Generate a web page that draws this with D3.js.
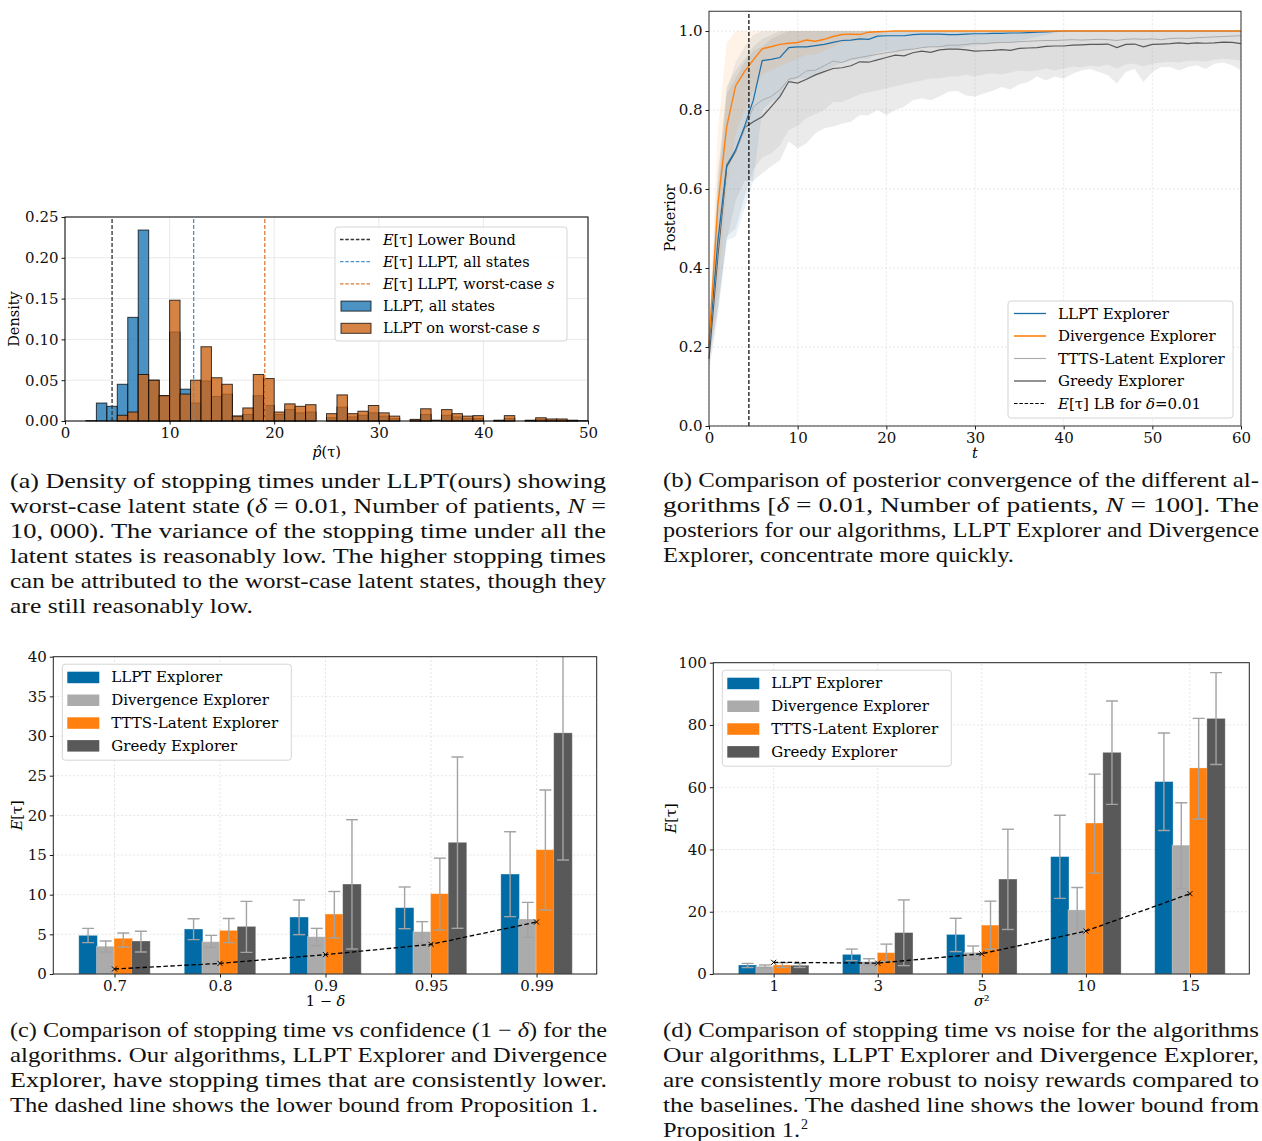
<!DOCTYPE html>
<html>
<head>
<meta charset="utf-8">
<script src="https://cdn.jsdelivr.net/npm/d3@7"></script>
<style>
  body { margin: 0; background: #fff; }
  text { font-family: "DejaVu Serif", serif; }
  .cap { font-family: "Liberation Serif", serif; font-size: 21px; fill: #111; }
</style>
</head>
<body>
<svg id="fig" width="1262" height="1141"></svg>
<script>
// ---------- data: panel (a) histogram (bins of width 1 starting at 2) ----------
const histBins = d3.range(2, 50);
const histAllStates = [0.0005, 0.022, 0.018, 0.045, 0.127, 0.234, 0.050, 0.031, 0.109, 0.039,
  0.022, 0.049, 0.030, 0.033, 0.006, 0.008, 0.031, 0.019, 0.008, 0.014,
  0.010, 0.011, 0, 0.004, 0.017, 0.005, 0.007, 0.010, 0.006, 0.003,
  0, 0.001, 0.008, 0, 0.007, 0.005, 0.003, 0.003, 0, 0.0005,
  0.003, 0, 0.0005, 0.002, 0.001, 0.001, 0.0005, 0];
const histWorstCase = [0, 0, 0, 0.007, 0.011, 0.057, 0.050, 0.031, 0.148, 0.033,
  0.050, 0.091, 0.053, 0.045, 0.006, 0.016, 0.057, 0.052, 0.011, 0.021,
  0.018, 0.020, 0, 0.009, 0.032, 0.009, 0.012, 0.019, 0.010, 0.006,
  0, 0.002, 0.015, 0.001, 0.014, 0.009, 0.006, 0.0066, 0, 0.001,
  0.0066, 0, 0.001, 0.004, 0.0025, 0.0025, 0.001, 0.0005];
const lowerBoundTau = 4.5;
const meanTauAll = 12.3;
const meanTauWorst = 19.1;

// ---------- data: panel (b) posterior vs t ----------
const tSteps = d3.range(0, 61);
const llptMean = [0.20, 0.47, 0.659, 0.699, 0.758, 0.825, 0.925, 0.928, 0.933, 0.958,
  0.960, 0.960, 0.963, 0.966, 0.971, 0.976, 0.977, 0.980, 0.979, 0.987,
  0.988, 0.988, 0.988, 0.991, 0.992, 0.992, 0.992, 0.991, 0.991, 0.992,
  0.993, 0.993, 0.994, 0.994, 0.995, 0.995, 0.996, 0.997, 0.998, 0.999,
  1, 1, 1, 1, 1, 1, 1, 1, 1, 1,
  1, 1, 1, 1, 1, 1, 1, 1, 1, 1, 1];
const llptLo = [0.17, 0.30, 0.47, 0.48, 0.55, 0.62, 0.80, 0.82, 0.83, 0.87,
  0.88, 0.88, 0.89, 0.90, 0.91, 0.92, 0.925, 0.93, 0.93, 0.945,
  0.95, 0.95, 0.95, 0.955, 0.96, 0.96, 0.96, 0.955, 0.955, 0.96,
  0.962, 0.965, 0.968, 0.97, 0.972, 0.975, 0.98, 0.985, 0.99, 0.995,
  1, 1, 1, 1, 1, 1, 1, 1, 1, 1,
  1, 1, 1, 1, 1, 1, 1, 1, 1, 1, 1];
const llptHi = [0.23, 0.64, 0.85, 0.92, 0.96, 0.99, 1, 1, 1, 1,
  1, 1, 1, 1, 1, 1, 1, 1, 1, 1,
  1, 1, 1, 1, 1, 1, 1, 1, 1, 1,
  1, 1, 1, 1, 1, 1, 1, 1, 1, 1,
  1, 1, 1, 1, 1, 1, 1, 1, 1, 1,
  1, 1, 1, 1, 1, 1, 1, 1, 1, 1, 1];
const divMean = [0.21, 0.56, 0.758, 0.861, 0.897, 0.927, 0.955, 0.960, 0.966, 0.969,
  0.971, 0.977, 0.974, 0.979, 0.986, 0.991, 0.992, 0.991, 0.997, 0.998,
  0.999, 1, 1, 1, 1, 1, 1, 1, 1, 1,
  1, 1, 1, 1, 1, 1, 1, 1, 1, 1,
  1, 1, 1, 1, 1, 1, 1, 1, 1, 1,
  1, 1, 1, 1, 1, 1, 1, 1, 1, 1, 1];
const divLo = [0.18, 0.35, 0.60, 0.74, 0.80, 0.85, 0.89, 0.90, 0.91, 0.92,
  0.93, 0.94, 0.94, 0.95, 0.96, 0.97, 0.975, 0.975, 0.985, 0.99,
  0.995, 1, 1, 1, 1, 1, 1, 1, 1, 1,
  1, 1, 1, 1, 1, 1, 1, 1, 1, 1,
  1, 1, 1, 1, 1, 1, 1, 1, 1, 1,
  1, 1, 1, 1, 1, 1, 1, 1, 1, 1, 1];
const divHi = [0.24, 0.75, 0.97, 1, 1, 1, 1, 1, 1, 1,
  1, 1, 1, 1, 1, 1, 1, 1, 1, 1,
  1, 1, 1, 1, 1, 1, 1, 1, 1, 1,
  1, 1, 1, 1, 1, 1, 1, 1, 1, 1,
  1, 1, 1, 1, 1, 1, 1, 1, 1, 1,
  1, 1, 1, 1, 1, 1, 1, 1, 1, 1, 1];
const tttsMean = [0.20, 0.45, 0.665, 0.695, 0.750, 0.808, 0.825, 0.834, 0.851, 0.878,
  0.883, 0.899, 0.901, 0.912, 0.924, 0.920, 0.929, 0.933, 0.937, 0.941,
  0.945, 0.948, 0.952, 0.954, 0.958, 0.960, 0.960, 0.964, 0.964, 0.966,
  0.969, 0.968, 0.970, 0.971, 0.971, 0.973, 0.974, 0.975, 0.976, 0.976,
  0.977, 0.978, 0.977, 0.978, 0.979, 0.978, 0.976, 0.979, 0.980, 0.979,
  0.980, 0.978, 0.981, 0.982, 0.981, 0.983, 0.984, 0.985, 0.986, 0.987, 0.988];
const tttsLo = [0.16, 0.30, 0.48, 0.50, 0.58, 0.65, 0.68, 0.69, 0.71, 0.75,
  0.76, 0.78, 0.79, 0.80, 0.82, 0.82, 0.83, 0.84, 0.845, 0.85,
  0.855, 0.86, 0.865, 0.87, 0.875, 0.88, 0.88, 0.885, 0.885, 0.89,
  0.885, 0.89, 0.893, 0.89, 0.895, 0.90, 0.898, 0.90, 0.905, 0.90,
  0.905, 0.91, 0.908, 0.912, 0.91, 0.915, 0.905, 0.915, 0.918, 0.91,
  0.918, 0.92, 0.922, 0.92, 0.925, 0.925, 0.922, 0.928, 0.93, 0.928, 0.925];
const tttsHi = [0.24, 0.62, 0.86, 0.90, 0.93, 0.96, 0.98, 0.99, 1, 1,
  1, 1, 1, 1, 1, 1, 1, 1, 1, 1,
  1, 1, 1, 1, 1, 1, 1, 1, 1, 1,
  1, 1, 1, 1, 1, 1, 1, 1, 1, 1,
  1, 1, 1, 1, 1, 1, 1, 1, 1, 1,
  1, 1, 1, 1, 1, 1, 1, 1, 1, 1, 1];
const greedyMean = [0.17, 0.43, 0.657, 0.695, 0.755, 0.770, 0.783, 0.808, 0.834, 0.872,
  0.868, 0.878, 0.889, 0.897, 0.905, 0.907, 0.912, 0.922, 0.921, 0.927,
  0.933, 0.939, 0.937, 0.945, 0.949, 0.946, 0.952, 0.954, 0.954, 0.952,
  0.949, 0.950, 0.951, 0.953, 0.951, 0.956, 0.957, 0.958, 0.961, 0.962,
  0.962, 0.964, 0.965, 0.966, 0.966, 0.967, 0.958, 0.966, 0.967, 0.960,
  0.966, 0.967, 0.968, 0.970, 0.968, 0.970, 0.969, 0.970, 0.972, 0.971, 0.968];
const greedyLo = [0.14, 0.28, 0.47, 0.57, 0.62, 0.62, 0.64, 0.657, 0.673, 0.72,
  0.703, 0.716, 0.741, 0.754, 0.758, 0.766, 0.77, 0.787, 0.787, 0.80,
  0.787, 0.80, 0.808, 0.825, 0.83, 0.825, 0.834, 0.846, 0.849, 0.837,
  0.834, 0.842, 0.849, 0.858, 0.852, 0.865, 0.871, 0.885, 0.875, 0.885,
  0.879, 0.892, 0.90, 0.904, 0.896, 0.888, 0.867, 0.896, 0.904, 0.871,
  0.896, 0.909, 0.909, 0.90, 0.909, 0.913, 0.904, 0.917, 0.92, 0.913, 0.90];
const greedyHi = [0.20, 0.58, 0.84, 0.88, 0.92, 0.95, 0.96, 0.98, 0.99, 1,
  1, 1, 1, 1, 1, 1, 1, 1, 1, 1,
  1, 1, 1, 1, 1, 1, 1, 1, 1, 1,
  1, 1, 1, 1, 1, 1, 1, 1, 1, 1,
  1, 1, 1, 1, 1, 1, 1, 1, 1, 1,
  1, 1, 1, 1, 1, 1, 1, 1, 1, 1, 1];
const lbStep = 4.5;

// ---------- data: panel (c) E[tau] vs 1 - delta ----------
const confCats = ['0.7', '0.8', '0.9', '0.95', '0.99'];
const confLLPT = [4.87, 5.67, 7.18, 8.36, 12.6];
const confLLPTLo = [3.95, 4.33, 4.96, 5.71, 7.23];
const confLLPTHi = [5.75, 6.97, 9.33, 10.97, 17.94];
const confDiv = [3.5, 4.07, 4.7, 5.34, 6.93];
const confDivLo = [2.77, 3.36, 3.57, 3.87, 4.62];
const confDivHi = [4.16, 4.87, 5.75, 6.6, 9.03];
const confTTTS = [4.5, 5.5, 7.56, 10.13, 15.67];
const confTTTSLo = [3.4, 3.95, 4.54, 5.55, 8.07];
const confTTTSHi = [5.17, 7.0, 10.4, 14.6, 23.2];
const confGreedy = [4.16, 6.0, 11.34, 16.6, 30.4];
const confGreedyLo = [2.77, 2.73, 3.15, 5.76, 14.37];
const confGreedyHi = [5.38, 9.16, 19.45, 27.35, 46.4];
const confLB = [0.63, 1.34, 2.44, 3.74, 6.55];

// ---------- data: panel (d) E[tau] vs sigma^2 ----------
const noiseCats = ['1', '3', '5', '10', '15'];
const noiseLLPT = [2.9, 6.3, 12.7, 37.7, 61.8];
const noiseLLPTLo = [2.1, 4.3, 7.2, 24.3, 46.1];
const noiseLLPTHi = [3.4, 8.0, 17.9, 51.0, 77.4];
const noiseDiv = [2.46, 4.0, 6.96, 20.6, 41.4];
const noiseDivLo = [2.0, 3.0, 4.7, 12.7, 27.5];
const noiseDivHi = [2.9, 4.9, 9.0, 27.8, 55.0];
const noiseTTTS = [2.9, 6.85, 15.7, 48.5, 66.2];
const noiseTTTSLo = [2.1, 4.0, 8.0, 32.4, 49.8];
const noiseTTTSHi = [3.6, 9.6, 23.4, 64.2, 82.1];
const noiseGreedy = [2.8, 13.3, 30.5, 71.2, 82.1];
const noiseGreedyLo = [2.1, 2.7, 14.3, 54.5, 67.3];
const noiseGreedyHi = [3.4, 23.8, 46.5, 87.7, 96.8];
const noiseLB = [3.75, 3.5, 6.5, 13.8, 25.8];

const algoNames = ['LLPT Explorer', 'Divergence Explorer', 'TTTS-Latent Explorer', 'Greedy Explorer'];
const barColors = ['#006BA4', '#ABABAB', '#FF800E', '#595959'];
const lineColors = { llpt: '#1a6ea8', div: '#FF800E', ttts: '#ABABAB', greedy: '#595959' };

const svg = d3.select('#fig');

// draws ticks + labels for an axis, without the domain path
function addAxis(g, axis, transform) {
    const a = g.append('g').attr('transform', transform).call(axis);
    a.select('.domain').remove();
    a.selectAll('.tick line').attr('stroke', '#000').attr('stroke-width', 0.9);
    a.selectAll('.tick text').attr('fill', '#111').style('font-size', '15px')
        .style('font-family', '"DejaVu Serif", serif');
    return a;
}

function frame(g, x0, y0, x1, y1, color) {
    g.append('rect').attr('x', x0).attr('y', y0)
        .attr('width', x1 - x0).attr('height', y1 - y0)
        .attr('fill', 'none').attr('stroke', color || '#000').attr('stroke-width', 1);
}

function legendFrame(g, x, y, w, h) {
    g.append('rect').attr('x', x).attr('y', y).attr('width', w).attr('height', h)
        .attr('rx', 3).attr('fill', '#fff').attr('fill-opacity', 0.85)
        .attr('stroke', '#d5d5d5').attr('stroke-width', 1);
}

// text with *italic* parts
function richText(sel, str) {
    str.split('*').forEach((part, i) => {
        if (part === '') return;
        const t = sel.append('tspan').text(part);
        if (i % 2 === 1) t.style('font-style', 'italic');
    });
    return sel;
}

// =================== Panel (a) ===================
const gA = svg.append('g');
const xA = d3.scaleLinear().domain([0, 50]).range([65, 588]);
const yA = d3.scaleLinear().domain([0, 0.25]).range([421, 217]);

gA.selectAll('.gx').data(xA.ticks(5)).enter().append('line')
    .attr('x1', d => xA(d)).attr('x2', d => xA(d)).attr('y1', yA(0.25)).attr('y2', yA(0))
    .attr('stroke', '#e9e9e9').attr('stroke-width', 1);
gA.selectAll('.gy').data(yA.ticks(5)).enter().append('line')
    .attr('x1', xA(0)).attr('x2', xA(50)).attr('y1', d => yA(d)).attr('y2', d => yA(d))
    .attr('stroke', '#e9e9e9').attr('stroke-width', 1);

gA.selectAll('.hb').data(histBins).enter().append('rect')
    .attr('x', d => xA(d)).attr('width', d => xA(d + 1) - xA(d))
    .attr('y', (d, i) => yA(histAllStates[i]))
    .attr('height', (d, i) => yA(0) - yA(histAllStates[i]))
    .attr('fill', '#1f77b4').attr('fill-opacity', 0.8)
    .attr('stroke', '#000').attr('stroke-opacity', 0.75).attr('stroke-width', 1);
gA.selectAll('.ho').data(histBins).enter().append('rect')
    .attr('x', d => xA(d)).attr('width', d => xA(d + 1) - xA(d))
    .attr('y', (d, i) => yA(histWorstCase[i]))
    .attr('height', (d, i) => yA(0) - yA(histWorstCase[i]))
    .attr('fill', '#cc6518').attr('fill-opacity', 0.8)
    .attr('stroke', '#000').attr('stroke-opacity', 0.75).attr('stroke-width', 1);

const vLinesA = [
    { v: lowerBoundTau, c: '#333' },
    { v: meanTauAll, c: '#4b92c8' },
    { v: meanTauWorst, c: '#e07b39' }
];
gA.selectAll('.vl').data(vLinesA).enter().append('line')
    .attr('x1', d => xA(d.v)).attr('x2', d => xA(d.v))
    .attr('y1', yA(0)).attr('y2', yA(0.25))
    .attr('stroke', d => d.c).attr('stroke-width', 1.3).attr('stroke-dasharray', '4,2');

addAxis(gA, d3.axisBottom(xA).tickValues(xA.ticks(5)).tickSize(3.5).tickSizeOuter(0).tickPadding(3),
    `translate(0,${yA(0)})`);
addAxis(gA, d3.axisLeft(yA).tickValues(yA.ticks(5)).tickFormat(d3.format('.2f'))
    .tickSize(3.5).tickSizeOuter(0).tickPadding(3), `translate(${xA(0)},0)`);
frame(gA, xA(0), yA(0.25), xA(50), yA(0));

gA.append('text').attr('transform', `translate(22,${(yA(0) + yA(0.25)) / 2}) rotate(-90)`)
    .attr('text-anchor', 'middle').attr('dy', '-0.2em').style('font-size', '14.5px').text('Density');
richText(gA.append('text').attr('x', (xA(0) + xA(50)) / 2).attr('y', 457)
    .attr('text-anchor', 'middle').style('font-size', '14.5px'), '*p\u0302*(\u03c4)');

// legend (a)
const lgA = gA.append('g');
legendFrame(lgA, 335, 227, 232, 114);
const legA = [
    { type: 'line', c: '#333', label: '*E*[\u03c4] Lower Bound' },
    { type: 'line', c: '#4b92c8', label: '*E*[\u03c4] LLPT, all states' },
    { type: 'line', c: '#e07b39', label: '*E*[\u03c4] LLPT, worst-case *s*' },
    { type: 'patch', c: '#1f77b4', label: 'LLPT, all states' },
    { type: 'patch', c: '#cc6518', label: 'LLPT on worst-case *s*' }
];
legA.forEach((d, i) => {
    const y = 239.5 + i * 22.2;
    if (d.type === 'line') {
        lgA.append('line').attr('x1', 340).attr('x2', 371).attr('y1', y).attr('y2', y)
            .attr('stroke', d.c).attr('stroke-width', 1.3).attr('stroke-dasharray', '3.5,1.8');
    } else {
        lgA.append('rect').attr('x', 341).attr('y', y - 5).attr('width', 30).attr('height', 10)
            .attr('fill', d.c).attr('fill-opacity', 0.8).attr('stroke', '#000').attr('stroke-opacity', 0.75);
    }
    richText(lgA.append('text').attr('x', 383).attr('y', y + 5).style('font-size', '14.5px'), d.label);
});

// =================== Panel (b) ===================
const gB = svg.append('g');
const xB = d3.scaleLinear().domain([0, 60]).range([709, 1241]);
const yB = d3.scaleLinear().domain([0, 1.05]).range([426, 11.25]);

gB.selectAll('.gx').data(d3.range(0, 61, 10)).enter().append('line')
    .attr('x1', d => xB(d)).attr('x2', d => xB(d)).attr('y1', yB(1.05)).attr('y2', yB(0))
    .attr('stroke', '#e2e2e2').attr('stroke-width', 0.8).attr('stroke-dasharray', '2,2');
gB.selectAll('.gy').data(d3.range(0, 1.01, 0.2)).enter().append('line')
    .attr('x1', xB(0)).attr('x2', xB(60)).attr('y1', d => yB(d)).attr('y2', d => yB(d))
    .attr('stroke', '#e2e2e2').attr('stroke-width', 0.8).attr('stroke-dasharray', '2,2');

const seriesB = [
    { key: 'greedy', mean: greedyMean, lo: greedyLo, hi: greedyHi, c: lineColors.greedy, op: 0.12, w: 1.2 },
    { key: 'ttts', mean: tttsMean, lo: tttsLo, hi: tttsHi, c: lineColors.ttts, op: 0.2, w: 1.0 },
    { key: 'llpt', mean: llptMean, lo: llptLo, hi: llptHi, c: lineColors.llpt, op: 0.09, w: 1.2 },
    { key: 'div', mean: divMean, lo: divLo, hi: divHi, c: lineColors.div, op: 0.1, w: 1.4 }
];
const areaB = d3.area().x(d => xB(d.t)).y0(d => yB(d.lo)).y1(d => yB(d.hi));
const lineB = d3.line().x(d => xB(d.t)).y(d => yB(d.m));
seriesB.forEach(s => {
    const pts = tSteps.map((t, i) => ({ t: t, lo: s.lo[i], hi: s.hi[i], m: s.mean[i] }));
    gB.append('path').datum(pts).attr('d', areaB).attr('fill', s.c).attr('fill-opacity', s.op);
});
seriesB.forEach(s => {
    const pts = tSteps.map((t, i) => ({ t: t, m: s.mean[i] }));
    gB.append('path').datum(pts).attr('d', lineB).attr('fill', 'none')
        .attr('stroke', s.c).attr('stroke-width', s.w);
});
gB.append('line').attr('x1', xB(lbStep)).attr('x2', xB(lbStep)).attr('y1', yB(0)).attr('y2', yB(1.05))
    .attr('stroke', '#000').attr('stroke-width', 1.2).attr('stroke-dasharray', '4,2');

addAxis(gB, d3.axisBottom(xB).tickValues(d3.range(0, 61, 10)).tickSize(3.5).tickSizeOuter(0).tickPadding(3),
    `translate(0,${yB(0)})`);
addAxis(gB, d3.axisLeft(yB).tickValues(d3.range(0, 1.01, 0.2)).tickFormat(d3.format('.1f'))
    .tickSize(3.5).tickSizeOuter(0).tickPadding(3), `translate(${xB(0)},0)`);
frame(gB, xB(0), yB(1.05), xB(60), yB(0), '#333');

gB.append('text').attr('transform', `translate(675,218) rotate(-90)`)
    .attr('text-anchor', 'middle').style('font-size', '14.5px').text('Posterior');
gB.append('text').attr('x', (xB(0) + xB(60)) / 2).attr('y', 458).attr('text-anchor', 'middle')
    .style('font-size', '14.5px').style('font-style', 'italic').text('t');

// legend (b)
const lgB = gB.append('g');
legendFrame(lgB, 1008, 301, 225, 117);
const legB = [
    { c: lineColors.llpt, w: 1.3, dash: null, label: 'LLPT Explorer' },
    { c: lineColors.div, w: 1.6, dash: null, label: 'Divergence Explorer' },
    { c: lineColors.ttts, w: 1.1, dash: null, label: 'TTTS-Latent Explorer' },
    { c: '#777', w: 1.6, dash: null, label: 'Greedy Explorer' },
    { c: '#000', w: 1.2, dash: '3.5,1.8', label: '*E*[\u03c4] LB for *\u03b4*=0.01' }
];
legB.forEach((d, i) => {
    const y = 313.5 + i * 22.5;
    lgB.append('line').attr('x1', 1014).attr('x2', 1046).attr('y1', y).attr('y2', y)
        .attr('stroke', d.c).attr('stroke-width', d.w).attr('stroke-dasharray', d.dash);
    richText(lgB.append('text').attr('x', 1058).attr('y', y + 5).style('font-size', '15px'), d.label);
});

// =================== Bar panels (c) and (d) ===================
function barPanel(opts) {
    const g = svg.append('g');
    const x = d3.scaleLinear().domain([-0.58, 4.57]).range(opts.xRange);
    const y = d3.scaleLinear().domain([0, opts.yMax]).range(opts.yRange);
    const idx = d3.range(opts.cats.length);
    const clipId = 'clip-' + opts.id;
    g.append('clipPath').attr('id', clipId).append('rect')
        .attr('x', x(-0.58)).attr('y', y(opts.yMax))
        .attr('width', x(4.57) - x(-0.58)).attr('height', y(0) - y(opts.yMax));

    // dotted grid
    g.selectAll('.gy').data(opts.yTicks).enter().append('line')
        .attr('x1', x(-0.58)).attr('x2', x(4.57)).attr('y1', d => y(d)).attr('y2', d => y(d))
        .attr('stroke', '#dedede').attr('stroke-width', 0.8).attr('stroke-dasharray', '2,2');
    g.selectAll('.gx').data(idx).enter().append('line')
        .attr('x1', d => x(d)).attr('x2', d => x(d)).attr('y1', y(0)).attr('y2', y(opts.yMax))
        .attr('stroke', '#dedede').attr('stroke-width', 0.8).attr('stroke-dasharray', '2,2');

    const step = 0.167, bw = 0.176;
    const plot = g.append('g').attr('clip-path', `url(#${clipId})`);
    opts.series.forEach((s, k) => {
        const off = (k - 1.5) * step;
        plot.selectAll('.b' + k).data(idx).enter().append('rect')
            .attr('x', i => x(i + off - bw / 2)).attr('width', x(bw) - x(0))
            .attr('y', i => y(s.v[i])).attr('height', i => y(0) - y(s.v[i]))
            .attr('fill', barColors[k]).attr('stroke', '#fff').attr('stroke-opacity', 0.35)
            .attr('stroke-width', 0.8);
    });
    opts.series.forEach((s, k) => {
        const off = (k - 1.5) * step;
        const eb = plot.selectAll('.e' + k).data(idx).enter().append('g')
            .attr('stroke', '#a3a3a3').attr('stroke-width', 1.4);
        eb.append('line').attr('x1', i => x(i + off)).attr('x2', i => x(i + off))
            .attr('y1', i => y(s.lo[i])).attr('y2', i => y(s.hi[i]));
        eb.append('line').attr('x1', i => x(i + off) - 6).attr('x2', i => x(i + off) + 6)
            .attr('y1', i => y(s.lo[i])).attr('y2', i => y(s.lo[i]));
        eb.append('line').attr('x1', i => x(i + off) - 6).attr('x2', i => x(i + off) + 6)
            .attr('y1', i => y(s.hi[i])).attr('y2', i => y(s.hi[i]));
    });

    // lower bound
    const lbLine = d3.line().x(i => x(i)).y(i => y(opts.lb[i]));
    plot.append('path').datum(idx).attr('d', lbLine).attr('fill', 'none')
        .attr('stroke', '#000').attr('stroke-width', 1.3).attr('stroke-dasharray', '4.5,2.5');
    plot.selectAll('.mk').data(idx).enter().append('path')
        .attr('transform', i => `translate(${x(i)},${y(opts.lb[i])})`)
        .attr('d', 'M-2.5,-2.5L2.5,2.5M-2.5,2.5L2.5,-2.5')
        .attr('stroke', '#000').attr('stroke-width', 1);

    addAxis(g, d3.axisBottom(x).tickValues(idx).tickFormat(i => opts.cats[i])
        .tickSize(3.5).tickSizeOuter(0).tickPadding(3), `translate(0,${y(0)})`);
    addAxis(g, d3.axisLeft(y).tickValues(opts.yTicks).tickSize(3.5).tickSizeOuter(0).tickPadding(3),
        `translate(${x(-0.58)},0)`);
    frame(g, x(-0.58), y(opts.yMax), x(4.57), y(0), '#222');

    richText(g.append('text').attr('transform', `translate(${opts.yLabelX},${(y(0) + y(opts.yMax)) / 2}) rotate(-90)`)
        .attr('text-anchor', 'middle').style('font-size', '14.5px'), '*E*[\u03c4]');
    richText(g.append('text').attr('x', x(2)).attr('y', 1006).attr('text-anchor', 'middle')
        .style('font-size', '14.5px'), opts.xLabel);

    // legend
    const lg = g.append('g');
    const lx = x(-0.58) + 9, ly = y(opts.yMax) + 7.5;
    legendFrame(lg, lx, ly, 229, 96);
    algoNames.forEach((name, k) => {
        const yy = ly + 13 + k * 22.8;
        lg.append('rect').attr('x', lx + 5).attr('y', yy - 5.5).attr('width', 32).attr('height', 11.5)
            .attr('fill', barColors[k]);
        lg.append('text').attr('x', lx + 49).attr('y', yy + 5).style('font-size', '15px').text(name);
    });
    return g;
}

barPanel({
    id: 'c', cats: confCats, xRange: [53.3, 596.7], yRange: [974, 656.7], yMax: 40,
    yTicks: d3.range(0, 41, 5), yLabelX: 22, xLabel: '1 \u2212 *\u03b4*', lb: confLB,
    series: [
        { v: confLLPT, lo: confLLPTLo, hi: confLLPTHi },
        { v: confDiv, lo: confDivLo, hi: confDivHi },
        { v: confTTTS, lo: confTTTSLo, hi: confTTTSHi },
        { v: confGreedy, lo: confGreedyLo, hi: confGreedyHi }
    ]
});
barPanel({
    id: 'd', cats: noiseCats, xRange: [713.3, 1249.3], yRange: [974, 662.7], yMax: 100,
    yTicks: d3.range(0, 101, 20), yLabelX: 676, xLabel: '*\u03c3*\u00b2', lb: noiseLB,
    series: [
        { v: noiseLLPT, lo: noiseLLPTLo, hi: noiseLLPTHi },
        { v: noiseDiv, lo: noiseDivLo, hi: noiseDivHi },
        { v: noiseTTTS, lo: noiseTTTSLo, hi: noiseTTTSHi },
        { v: noiseGreedy, lo: noiseGreedyLo, hi: noiseGreedyHi }
    ]
});

// =================== Captions ===================
const captions = [
    { x: 10, y: 488, lines: [
        ['(a)  Density of stopping times under LLPT(ours) showing', 596],
        ['worst-case latent state (*\u03b4* = 0.01, Number of patients, *N* =', 596],
        ['10, 000).  The variance of the stopping time under all the', 596],
        ['latent states is reasonably low.  The higher stopping times', 596],
        ['can be attributed to the worst-case latent states, though they', 596],
        ['are still reasonably low.', 243]] },
    { x: 663, y: 487, lines: [
        ['(b) Comparison of posterior convergence of the different al-', 596],
        ['gorithms [*\u03b4* = 0.01, Number of patients, *N* = 100].  The', 596],
        ['posteriors for our algorithms, LLPT Explorer and Divergence', 596],
        ['Explorer, concentrate more quickly.', 351]] },
    { x: 10, y: 1037, lines: [
        ['(c) Comparison of stopping time vs confidence (1 \u2212 *\u03b4*) for the', 597],
        ['algorithms. Our algorithms, LLPT Explorer and Divergence', 597],
        ['Explorer, have stopping times that are consistently lower.', 597],
        ['The dashed line shows the lower bound from Proposition 1.', 588]] },
    { x: 663, y: 1037, lines: [
        ['(d) Comparison of stopping time vs noise for the algorithms', 596],
        ['Our algorithms, LLPT Explorer and Divergence Explorer,', 596],
        ['are consistently more robust to noisy rewards compared to', 596],
        ['the baselines. The dashed line shows the lower bound from', 596],
        ['Proposition 1.', 137]] }
];
captions.forEach(c => {
    c.lines.forEach((ln, i) => {
        const t = svg.append('text').attr('class', 'cap')
            .attr('x', c.x).attr('y', c.y + i * 25)
            .attr('textLength', ln[1]).attr('lengthAdjust', 'spacingAndGlyphs');
        richText(t, ln[0]);
    });
});
// footnote mark on the last line of (d)
svg.append('text').attr('class', 'cap').attr('x', 801).attr('y', 1129).style('font-size', '14px').text('2');
</script>
</body>
</html>
